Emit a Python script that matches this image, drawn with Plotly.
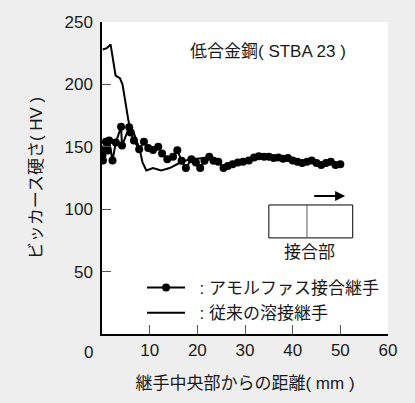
import plotly.graph_objects as go

# Amorphous bonded joint (dots + line)
amo_x = [0.0, 0.1, 0.2, 0.8, 1.2, 1.5, 2.2, 2.9, 4.0, 4.2, 5.7, 6.0, 6.7, 7.8, 8.8, 9.7,
         10.7, 11.8, 12.6, 13.7, 14.9, 15.8, 16.7, 17.6, 18.75, 19.7, 20.6, 21.5, 22.5,
         23.4, 24.4, 25.5, 26.4, 27.4, 28.5, 29.6, 30.8, 31.9, 32.9, 34.0, 35.0, 36.0,
         37.0, 38.0, 39.0, 40.0, 41.0, 42.0, 43.0, 44.0, 45.0, 46.0, 47.0, 48.0, 49.0, 50.0]
amo_y = [148, 143, 139, 154, 147, 155, 139, 153.5, 166, 151, 165.6, 161.5, 155, 148, 154, 149,
         147.5, 150, 144.7, 140, 142, 147.3, 138.8, 133, 140, 137.5, 133, 138.8, 142,
         138.8, 138, 133, 134.7, 136, 137.5, 138, 139, 141.5, 142.5, 142, 142, 141,
         141.5, 140.5, 141, 139, 138, 137, 138, 139, 137, 135.5, 137, 138, 135.5, 136]

# Conventional welded joint (solid line)
weld_x = [0.15, 1.0, 1.8, 2.85, 3.75, 4.3, 5.5, 5.8, 6.5, 7.2, 7.9, 8.5, 9.3,
          10.7, 12.4, 14.2, 16.25, 18.3, 21.8]
weld_y = [228, 229, 232, 207, 205, 200, 172, 166, 163, 156, 148, 137.5, 131,
          133, 131, 133, 137, 140, 141]

x_ticks = [10, 20, 30, 40, 50, 60]
y_ticks = [50, 100, 150, 200, 250]

FONT = "Liberation Sans, Arial, Noto Sans CJK JP, sans-serif"
TXT = "#1a1a1a"
NB = "\u00a0"

fig = go.Figure()
fig.add_trace(go.Scatter(
    x=weld_x, y=weld_y, mode="lines", name=NB * 2 + ": 従来の溶接継手",
    line=dict(color="black", width=2), legendgroup="b"))
fig.add_trace(go.Scatter(
    x=amo_x, y=amo_y, mode="lines+markers", name=NB * 2 + ": アモルファス接合継手",
    line=dict(color="black", width=2), marker=dict(color="black", size=8),
    legendgroup="a"))

# junction box
fig.add_shape(type="rect", x0=35, x1=52.6, y0=77, y1=103.4,
              line=dict(color="black", width=1), fillcolor="white")
fig.add_shape(type="line", x0=43, x1=43, y0=77, y1=103.4,
              line=dict(color="#555", width=1))
fig.add_annotation(x=51.0, y=110.6, ax=44.2, ay=110.6, xref="x", yref="y",
                   axref="x", ayref="y", showarrow=True, arrowhead=2,
                   arrowsize=1, arrowwidth=2, arrowcolor="black", text="")
fig.add_annotation(x=43.6, y=65.5, xref="x", yref="y", text="接合部",
                   showarrow=False, font=dict(size=17, color=TXT, family=FONT))
fig.add_annotation(x=34.8, y=226, xref="x", yref="y", text="低合金鋼( STBA 23 )",
                   showarrow=False, font=dict(size=17, color=TXT, family=FONT))
fig.add_annotation(x=0, y=0, xref="x", yref="y", text="0", showarrow=False,
                   xshift=-14, yshift=-18, font=dict(size=17, color=TXT, family=FONT))

fig.update_layout(
    width=415, height=403,
    margin=dict(l=102, r=27, t=22, b=69),
    paper_bgcolor="#eeeeee", plot_bgcolor="white",
    font=dict(family=FONT, size=17, color=TXT),
    showlegend=True,
    legend=dict(x=0.14, y=0.205, xanchor="left", yanchor="top",
                bgcolor="rgba(0,0,0,0)", traceorder="reversed",
                tracegroupgap=2, itemwidth=38,
                font=dict(size=17, color=TXT, family=FONT)),
    xaxis=dict(range=[0, 60], tickvals=x_ticks, ticks="inside", ticklen=9,
               tickcolor="#555", showline=True, linecolor="black", linewidth=1.5,
               showgrid=False, zeroline=False, mirror=False,
               title=dict(text="継手中央部からの距離( mm )", standoff=18,
                          font=dict(size=17, color=TXT))),
    yaxis=dict(range=[0, 250], tickvals=y_ticks, ticks="inside", ticklen=9,
               tickcolor="#555", showline=True, linecolor="black", linewidth=1.5,
               showgrid=False, zeroline=False, mirror=False, ticklabelstandoff=4,
               title=dict(text="ビッカース硬さ( HV )", standoff=18,
                          font=dict(size=17, color=TXT))),
)

fig.write_html("out.html", config={"displayModeBar": False},
               post_script="document.body.style.margin='0';")
